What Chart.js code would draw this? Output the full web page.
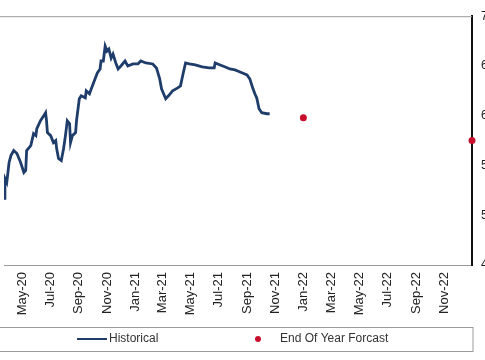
<!DOCTYPE html>
<html lang="en">
  <head>
    <meta charset="UTF-8" />
    <title>Historical vs End Of Year Forcast</title>
    <style>
      html, body { margin: 0; padding: 0; background: #fff; }
      .chart-container { width: 485px; height: 360px; position: relative; }
    </style>
    <script src="https://cdn.jsdelivr.net/npm/chart.js"></script>
  </head>
  <body>
    <div class="chart-container">
      <canvas id="rateChart"></canvas>
    </div>
    <script>
      // historical series
      var histDates = [
        "2020-03-23", "2020-03-25", "2020-03-29", "2020-04-03", "2020-04-07", "2020-04-13",
        "2020-04-20", "2020-04-28", "2020-05-05", "2020-05-09", "2020-05-11", "2020-05-20",
        "2020-05-26", "2020-05-31", "2020-06-02", "2020-06-10", "2020-06-17", "2020-06-21",
        "2020-06-23", "2020-06-25", "2020-07-02", "2020-07-08", "2020-07-13", "2020-07-15",
        "2020-07-19", "2020-07-25", "2020-07-30", "2020-08-03", "2020-08-07", "2020-08-12",
        "2020-08-14", "2020-08-18", "2020-08-25", "2020-08-27", "2020-09-02", "2020-09-06",
        "2020-09-15", "2020-09-17", "2020-09-24", "2020-09-28", "2020-10-06", "2020-10-11",
        "2020-10-17", "2020-10-19", "2020-10-24", "2020-10-28", "2020-11-01", "2020-11-05",
        "2020-11-10", "2020-11-14", "2020-11-20", "2020-11-25", "2020-12-01", "2020-12-10",
        "2020-12-16", "2020-12-27", "2021-01-07", "2021-01-13", "2021-01-24", "2021-02-08",
        "2021-02-16", "2021-02-23", "2021-02-27", "2021-03-08", "2021-03-14", "2021-03-23",
        "2021-04-03", "2021-04-09", "2021-04-15", "2021-04-20", "2021-04-28", "2021-05-11",
        "2021-05-26", "2021-06-10", "2021-06-21", "2021-06-23", "2021-07-04", "2021-07-15",
        "2021-07-25", "2021-08-05", "2021-08-16", "2021-08-31", "2021-09-06", "2021-09-13",
        "2021-09-17", "2021-09-21", "2021-09-26", "2021-10-02", "2021-10-13", "2021-10-19"
      ];
      var histValues = [
        5.17, 5.37, 5.33, 5.53, 5.60, 5.65,
        5.62, 5.53, 5.43, 5.45, 5.65, 5.70,
        5.82, 5.80, 5.87, 5.95, 6.00, 6.03,
        5.95, 5.83, 5.80, 5.73, 5.75, 5.67,
        5.57, 5.55, 5.67, 5.80, 5.95, 5.92,
        5.73, 5.80, 5.83, 5.95, 6.17, 6.20,
        6.18, 6.25, 6.22, 6.27, 6.37, 6.43,
        6.47, 6.55, 6.55, 6.70, 6.65, 6.67,
        6.58, 6.62, 6.53, 6.47, 6.50, 6.55,
        6.50, 6.52, 6.52, 6.55, 6.53, 6.52,
        6.48, 6.37, 6.27, 6.17, 6.20, 6.25,
        6.28, 6.30, 6.43, 6.53, 6.52, 6.51,
        6.49, 6.48, 6.48, 6.53, 6.51, 6.49,
        6.47, 6.46, 6.44, 6.41, 6.37, 6.27,
        6.22, 6.18, 6.07, 6.03, 6.02, 6.02
      ];

      var forecastDates = ["2021-12-31", "2022-12-31"];
      var forecastValues = [5.98, 5.75];

      var tickDates = [
        "2020-05-01", "2020-07-01", "2020-09-01", "2020-11-01", "2021-01-01", "2021-03-01",
        "2021-05-01", "2021-07-01", "2021-09-01", "2021-11-01", "2022-01-01", "2022-03-01",
        "2022-05-01", "2022-07-01", "2022-09-01", "2022-11-01"
      ];
      var tickLabels = [
        "May-20", "Jul-20", "Sep-20", "Nov-20", "Jan-21", "Mar-21",
        "May-21", "Jul-21", "Sep-21", "Nov-21", "Jan-22", "Mar-22",
        "May-22", "Jul-22", "Sep-22", "Nov-22"
      ];
      var axisStart = "2020-03-23";
      var axisEnd = "2022-12-31";

      var seriesNames = ["Historical", "End Of Year Forcast"];
      var navy = "#1f3d6b";
      var red = "#c8102e";

      function toDay(s) {
        var p = s.split("-");
        return (Date.UTC(+p[0], +p[1] - 1, +p[2]) - Date.UTC(2020, 0, 1)) / 86400000;
      }

      function pairs(dates, values) {
        return dates.map(function (d, i) { return { x: toDay(d), y: values[i] }; });
      }

      var tickDays = tickDates.map(toDay);

      // frame lines and the boxed legend at the bottom
      var framePlugin = {
        id: "frame",
        beforeDatasetsDraw: function (chart) {
          var ctx = chart.ctx, a = chart.chartArea;
          ctx.save();
          ctx.strokeStyle = "#9a9a9a";
          ctx.lineWidth = 1;
          ctx.beginPath();
          ctx.moveTo(0, a.top + 0.5);
          ctx.lineTo(a.right, a.top + 0.5);
          ctx.stroke();
          ctx.restore();
        },
        afterDraw: function (chart) {
          var ctx = chart.ctx;
          ctx.save();
          ctx.strokeStyle = "#9a9a9a";
          ctx.lineWidth = 1;
          ctx.strokeRect(-1, 327.5, 474, 24);

          ctx.strokeStyle = navy;
          ctx.lineWidth = 2;
          ctx.beginPath();
          ctx.moveTo(77, 339);
          ctx.lineTo(107, 339);
          ctx.stroke();

          ctx.fillStyle = red;
          ctx.beginPath();
          ctx.arc(258, 339, 3, 0, Math.PI * 2);
          ctx.fill();

          ctx.fillStyle = "#333";
          ctx.font = "12px 'Liberation Sans', Arial, sans-serif";
          ctx.textBaseline = "middle";
          ctx.fillText(seriesNames[0], 109, 339);
          ctx.fillText(seriesNames[1], 280, 339);
          ctx.restore();
        },
      };

      var ctx = document.getElementById("rateChart").getContext("2d");
      var rateChart = new Chart(ctx, {
        type: "line",
        data: {
          datasets: [
            {
              label: seriesNames[0],
              data: pairs(histDates, histValues),
              borderColor: navy,
              borderWidth: 2.8,
              pointRadius: 0,
              tension: 0,
              fill: false,
            },
            {
              label: seriesNames[1],
              data: pairs(forecastDates, forecastValues),
              showLine: false,
              pointRadius: 3.5,
              pointBackgroundColor: red,
              pointBorderWidth: 0,
              clip: false,
            },
          ],
        },
        options: {
          responsive: true,
          maintainAspectRatio: false,
          animation: false,
          layout: { padding: { top: 15, right: 0, bottom: 38, left: 0 } },
          plugins: {
            legend: { display: false },
            tooltip: { enabled: false },
          },
          scales: {
            x: {
              type: "linear",
              min: toDay(axisStart),
              max: toDay(axisEnd),
              grid: { display: false, drawTicks: false },
              border: { color: "#9a9a9a", width: 1 },
              afterBuildTicks: function (scale) {
                scale.ticks = tickDays.map(function (d) { return { value: d }; });
              },
              afterFit: function (scale) { scale.height = 57; },
              ticks: {
                autoSkip: false,
                minRotation: 90,
                maxRotation: 90,
                padding: 7,
                color: "#222",
                font: { family: "'Liberation Sans', Arial, sans-serif", size: 13 },
                callback: function (value) {
                  var i = tickDays.indexOf(value);
                  return i >= 0 ? tickLabels[i] : "";
                },
              },
            },
            y: {
              position: "right",
              min: 4.5,
              max: 7.0,
              grid: { display: false, drawTicks: false },
              border: { color: "#111", width: 2 },
              afterFit: function (scale) { scale.width = 13; },
              ticks: {
                stepSize: 0.5,
                padding: 9,
                color: "#222",
                font: { family: "'Liberation Sans', Arial, sans-serif", size: 12 },
                callback: function (value) { return value.toFixed(1); },
              },
            },
          },
        },
        plugins: [framePlugin],
      });
    </script>
  </body>
</html>
